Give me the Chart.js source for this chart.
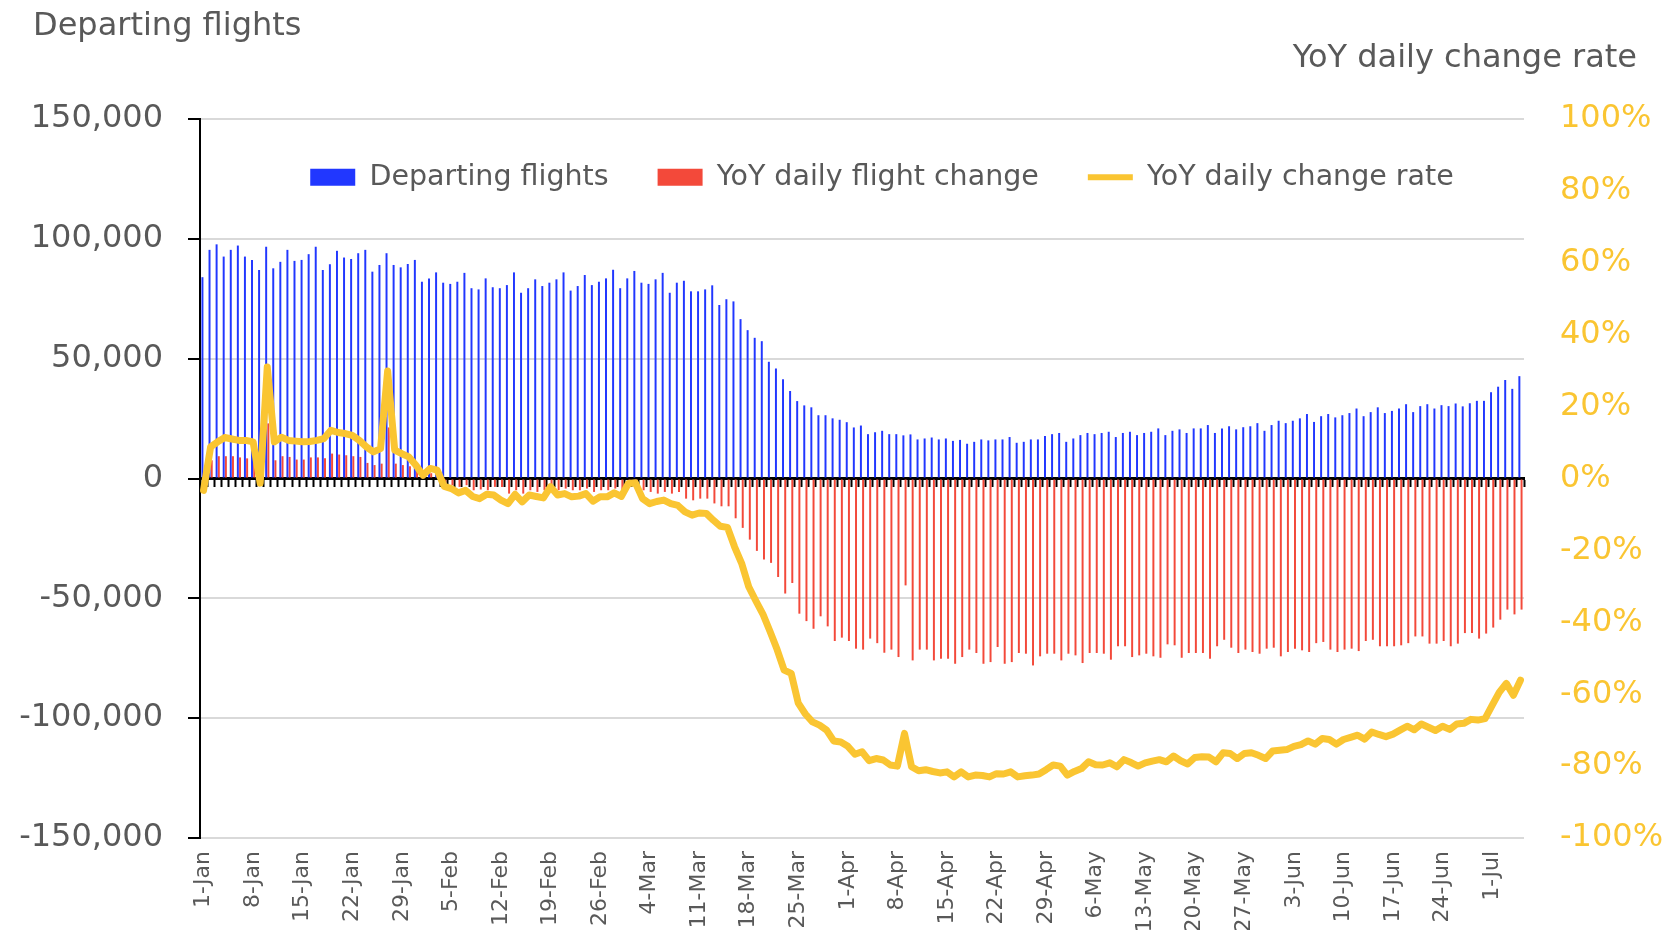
<!DOCTYPE html>
<html>
<head>
<meta charset="utf-8">
<title>Departing flights</title>
<script src="https://cdn.jsdelivr.net/npm/chart.js@4.4.1/dist/chart.umd.min.js"></script>
<style>
  html, body { margin: 0; padding: 0; background: #fff; overflow: hidden; }
  #wrap { position: relative; width: 1678px; height: 930px; }
</style>
</head>
<body>
<div id="wrap"><canvas id="myChart"></canvas></div>
<script>
// categories: 1-Jan .. 5-Jul (2020)
var months = ['Jan', 'Feb', 'Mar', 'Apr', 'May', 'Jun', 'Jul'];
var monthDays = [31, 29, 31, 30, 31, 30, 5];
var labels = [];
months.forEach(function(m, i){
    for (var d = 1; d <= monthDays[i]; d++) labels.push(d + '-' + m);
});

var leftTitle = 'Departing flights';
var rightTitle = 'YoY daily change rate';

// departing flights per day
var flights = [
    84000, 95400, 97700, 92600, 95400, 97200, 92600, 91200, 87000, 96700,
    87700, 90400, 95400, 90800, 91200, 93600, 96700, 87000, 89400, 95000,
    92200, 91600, 94000, 95400, 86300, 89100, 94000, 89100, 88100, 89500,
    91200, 82100, 83500, 86000, 81700, 81200, 82100, 85800, 79400, 78900,
    83500, 79800, 79400, 80700, 86000, 77500, 79400, 83100, 80300, 81700,
    83100, 86000, 78400, 80300, 84900, 80700, 82100, 83500, 87100, 79400,
    83500, 86600, 81700, 81200, 83100, 85800, 77500, 81700, 82500, 78100,
    78100, 78900, 80600, 72400, 74800, 73900, 66500, 61900, 58700, 57300,
    48700, 45900, 41400, 36500, 32300, 30500, 29700, 26400, 26400, 25100,
    24500, 23500, 21300, 22100, 18500, 19300, 19900, 18500, 18500, 18000,
    18400, 16300, 16700, 17100, 16300, 16700, 15700, 16100, 14500, 15300,
    16300, 15900, 16300, 16300, 17300, 14900, 15300, 16300, 16300, 17700,
    18500, 19000, 15300, 16700, 18100, 19000, 18500, 19000, 19500, 17300,
    19000, 19500, 18100, 19000, 19500, 20900, 18100, 19900, 20500, 19000,
    20900, 20900, 22300, 19000, 20900, 21800, 20500, 21400, 21800, 23100,
    19900, 22300, 24100, 23100, 24100, 25100, 26900, 23600, 26000, 26900,
    25500, 26400, 27300, 29200, 26000, 27700, 29700, 27300, 28200, 29200,
    31000, 27700, 30200, 31000, 29200, 30600, 30200, 31300, 30100, 31400,
    32400, 32400, 36000, 38300, 41100, 37400, 42700
];

// YoY daily flight change
var flightChange = [
    -3000, 7600, 9300, 9300, 9300, 8800, 8400, 8000, -1200, 23000,
    7600, 9300, 9000, 7900, 7900, 8800, 8800, 8400, 10400, 10000,
    9700, 9300, 9000, 6500, 5600, 6200, 21300, 6200, 5600, 5100,
    3500, 700, 2200, 1900, -1800, -2800, -3500, -2800, -4900, -4600,
    -4900, -3500, -3500, -6300, -4900, -6300, -4900, -5600, -4900, -3500,
    -4900, -4200, -4900, -4900, -4200, -5600, -4900, -4900, -4200, -4900,
    -2800, -2800, -4900, -5600, -6300, -5600, -6300, -5600, -8400, -9100,
    -8400, -8400, -10400, -11600, -11600, -16600, -20600, -25500, -30200, -33800,
    -35200, -41100, -48000, -43600, -56400, -59500, -62700, -57500, -61700, -67800,
    -66400, -67800, -71000, -71400, -66800, -68700, -72700, -71400, -74500, -44600,
    -75900, -71400, -71400, -75900, -75200, -75200, -77300, -74500, -71400, -72800,
    -77300, -76600, -70300, -77300, -76600, -72800, -73100, -78000, -74200, -73100,
    -73100, -75900, -73100, -73800, -77000, -72800, -72800, -73100, -75600, -70000,
    -70000, -74500, -73800, -73100, -74200, -74800, -69200, -69600, -74800, -72800,
    -72800, -72800, -75200, -70000, -67300, -70600, -72800, -71400, -72400, -73100,
    -71000, -70600, -74200, -72400, -71000, -71700, -72400, -68700, -68200, -71400,
    -72400, -71400, -71000, -72000, -67800, -67300, -70000, -70000, -70000, -69600,
    -68700, -65900, -65900, -68900, -68900, -67800, -70000, -68900, -64500, -64500,
    -66800, -64700, -62200, -58900, -54700, -56700, -54700
];

// YoY daily change rate (%)
var changeRate = [
    -3.3, 8.8, 10.2, 11.4, 11.0, 10.6, 10.6, 10.2, -1.3, 31.0,
    10.2, 11.5, 10.6, 10.4, 10.2, 10.3, 10.6, 11.1, 13.4, 12.8,
    12.5, 12.0, 10.6, 8.8, 7.4, 8.3, 29.9, 7.9, 6.9, 6.0,
    3.7, 0.9, 2.8, 2.3, -2.2, -2.8, -4.0, -3.3, -5.0, -5.6,
    -4.4, -4.6, -6.0, -7.0, -4.4, -6.5, -4.6, -5.0, -5.4, -2.3,
    -4.6, -4.2, -5.1, -4.9, -4.2, -6.3, -5.1, -5.1, -4.0, -5.0,
    -1.4, -1.2, -5.6, -7.0, -6.4, -6.0, -7.0, -7.5, -9.3, -10.2,
    -9.6, -9.7, -11.6, -13.3, -13.6, -19.0, -23.6, -30.1, -34.0, -37.7,
    -42.5, -47.5, -53.3, -54.2, -62.5, -65.5, -67.7, -68.6, -70.0, -73.0,
    -73.3, -74.5, -76.7, -76.0, -78.5, -77.9, -78.3, -79.7, -80.0, -70.9,
    -80.2, -81.3, -81.0, -81.5, -81.9, -81.6, -83.0, -81.6, -83.0, -82.5,
    -82.6, -83.0, -82.1, -82.2, -81.6, -83.0, -82.7, -82.5, -82.2, -81.0,
    -79.7, -80.0, -82.5, -81.5, -80.7, -78.8, -79.6, -79.7, -79.1, -80.2,
    -78.2, -79.0, -80.0, -79.1, -78.6, -78.2, -78.8, -77.2, -78.5, -79.4,
    -77.6, -77.4, -77.5, -78.8, -76.3, -76.5, -77.9, -76.5, -76.3, -77.0,
    -77.9, -75.8, -75.6, -75.4, -74.5, -74.0, -73.0, -73.9, -72.3, -72.6,
    -73.9, -72.6, -72.0, -71.4, -72.5, -70.5, -71.2, -71.8, -71.1, -70.0,
    -68.9, -69.9, -68.3, -69.2, -70.1, -68.9, -69.8, -68.3, -68.1, -67.0,
    -67.2, -66.8, -63.1, -59.5, -57.0, -60.3, -56.1
];

var blue = '#2137FF';
var red = '#F3493A';
var yellow = '#FAC532';
var grey = '#595959';

Chart.defaults.font.family = '"DejaVu Sans", sans-serif';
Chart.defaults.color = grey;

// legend sits inside the plot area, just under the top gridline
const legendPlace = {
    id: 'legendPlace',
    afterLayout: function(chart){
        var lg = chart.legend, area = chart.chartArea;
        lg.left = area.left + 20;
        lg.right = area.right + 20;
        lg.top = area.top - 5;
        lg.bottom = area.top + 120;
    }
};

// axis titles above the plot, left and right
const axisTitles = {
    id: 'axisTitles',
    afterDraw: function(chart){
        var c = chart.ctx;
        c.save();
        c.font = '32px "DejaVu Sans", sans-serif';
        c.fillStyle = grey;
        c.textBaseline = 'middle';
        c.textAlign = 'left';
        c.fillText(leftTitle, 33, 27);
        c.textAlign = 'right';
        c.fillText(rightTitle, 1637, 59);
        c.restore();
    }
};

const ctx = document.getElementById('myChart').getContext('2d');
const myChart = new Chart(ctx, {
    type: 'bar',
    data: {
        labels: labels,
        datasets: [{
            label: 'Departing flights',
            data: flights,
            backgroundColor: blue,
            borderWidth: 0,
            yAxisID: 'y',
            order: 1,
            barPercentage: 0.9,
            categoryPercentage: 0.62
        }, {
            label: 'YoY daily flight change',
            data: flightChange,
            backgroundColor: red,
            borderWidth: 0,
            yAxisID: 'y',
            order: 1,
            barPercentage: 0.9,
            categoryPercentage: 0.62
        }, {
            type: 'line',
            label: 'YoY daily change rate',
            data: changeRate,
            borderColor: yellow,
            backgroundColor: yellow,
            borderWidth: 7,
            borderJoinStyle: 'round',
            borderCapStyle: 'round',
            pointRadius: 0,
            tension: 0,
            yAxisID: 'y1',
            order: 0
        }]
    },
    options: {
        responsive: true,
        maintainAspectRatio: false,
        animation: false,
        layout: { padding: { top: 118, left: 0, right: 0, bottom: 0 } },
        plugins: {
            legend: {
                position: 'top',
                maxHeight: 1,
                labels: {
                    color: grey,
                    font: { size: 28.5 },
                    padding: 49,
                    usePointStyle: true,
                    pointStyleWidth: 45,
                    boxHeight: 17,
                    generateLabels: function(chart){
                        return chart.data.datasets.map(function(ds, i){
                            var isLine = ds.type === 'line';
                            return {
                                text: ds.label,
                                fillStyle: isLine ? yellow : ds.backgroundColor,
                                strokeStyle: isLine ? yellow : ds.backgroundColor,
                                lineWidth: isLine ? 6 : 0,
                                pointStyle: isLine ? 'line' : 'rect',
                                fontColor: grey,
                                hidden: false,
                                datasetIndex: i
                            };
                        });
                    }
                }
            },
            tooltip: { enabled: false }
        },
        scales: {
            x: {
                offset: true,
                grid: { display: false, drawTicks: false },
                border: { display: false },
                ticks: {
                    autoSkip: false,
                    minRotation: 90,
                    maxRotation: 90,
                    padding: 13,
                    color: grey,
                    font: { size: 22 },
                    callback: function(val, i){
                        return i % 7 === 0 ? this.getLabelForValue(val) : '';
                    }
                },
                afterFit: function(scale){ scale.height = 92; }
            },
            x2: {
                type: 'category',
                position: { y: 0 },
                offset: true,
                grid: {
                    offset: true,
                    drawOnChartArea: false,
                    drawTicks: true,
                    tickLength: 7,
                    tickWidth: 2,
                    tickColor: '#000',
                    color: '#000'
                },
                border: { display: true, color: '#000', width: 3 },
                ticks: { display: false, autoSkip: false }
            },
            y: {
                position: 'left',
                min: -150000,
                max: 150000,
                ticks: {
                    stepSize: 50000,
                    color: grey,
                    padding: 25,
                    font: { size: 32 },
                    callback: function(v){ return v.toLocaleString('en-US'); }
                },
                grid: {
                    color: '#d9d9d9',
                    lineWidth: 2,
                    tickColor: '#000',
                    tickLength: 12,
                    tickWidth: 2
                },
                border: { display: true, color: '#000', width: 2 },
                afterFit: function(scale){ scale.width = 200; }
            },
            y1: {
                position: 'right',
                min: -100,
                max: 100,
                ticks: {
                    stepSize: 20,
                    color: yellow,
                    padding: 36,
                    font: { size: 32 },
                    callback: function(v){ return v + '%'; }
                },
                grid: { display: false, drawTicks: false },
                border: { display: false },
                afterFit: function(scale){ scale.width = 154; }
            }
        }
    },
    plugins: [legendPlace, axisTitles]
});
</script>
</body>
</html>
